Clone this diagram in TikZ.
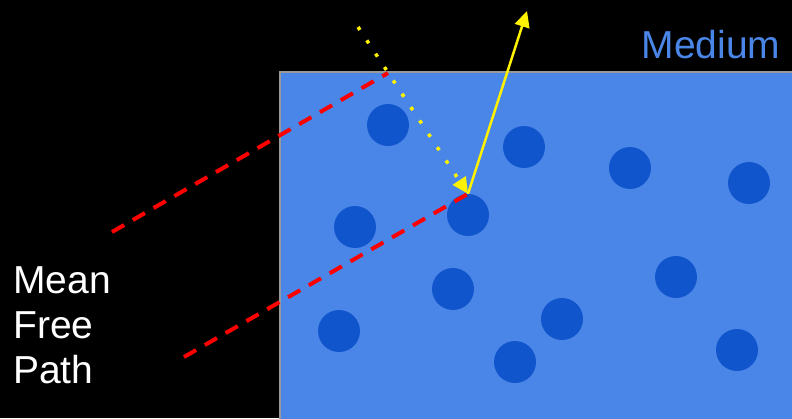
\documentclass[tikz,border=0pt]{standalone}
\usepackage{fontspec}
\setmainfont{Liberation Sans}
\usetikzlibrary{arrows.meta}
\definecolor{mediumblue}{HTML}{4A86E8}
\definecolor{particleblue}{HTML}{1155CC}
\definecolor{rimgray}{HTML}{999999}

\begin{document}
\begin{tikzpicture}[x=1pt,y=-1pt,
    particle/.style={circle,fill=particleblue,minimum size=42pt,inner sep=0pt},
    freepath/.style={red,line width=4pt,dash pattern=on 14pt off 10pt},
    ray/.style={yellow,-{Triangle[length=16pt,width=15pt]}},
    caption/.style={white,font=\fontsize{39}{45}\selectfont}]
    \fill[black] (0,0) rectangle (792,418);
    \useasboundingbox (0,0) rectangle (792,418);
    \draw[rimgray,line width=2pt,fill=mediumblue] (280,72) rectangle (800,430);
    \foreach \x/\y [count=\i] in {388/125,524/147,630/168,749/183,355/227,468/215,
                                  453/289,676/277,339/331,562/319,515/362,737/350}
        \node[particle] (p\i) at (\x,\y) {};
    \coordinate (src) at (358,27);
    \coordinate (entry) at (388,73);
    \coordinate (out) at (527,11);
    \coordinate (a1) at (112,232);
    \coordinate (b1) at (184,357);
    \draw[freepath] (a1) -- (entry);
    \draw[freepath] (b1) -- (p6.north);
    \draw[ray,line width=3.5pt,dash pattern=on 3.5pt off 12.5pt] (src) -- (p6.north);
    \draw[ray,line width=2.5pt] (p6.north) -- (out);
    \node[anchor=base west,text=mediumblue,font=\fontsize{39}{45}\selectfont] (mediumtext) at (638,58) {Medium};
    \node[caption,align=left,anchor=base west,inner sep=0pt] (mfp) at (13,383) {Mean\\Free\\Path};
\end{tikzpicture}
\end{document}
